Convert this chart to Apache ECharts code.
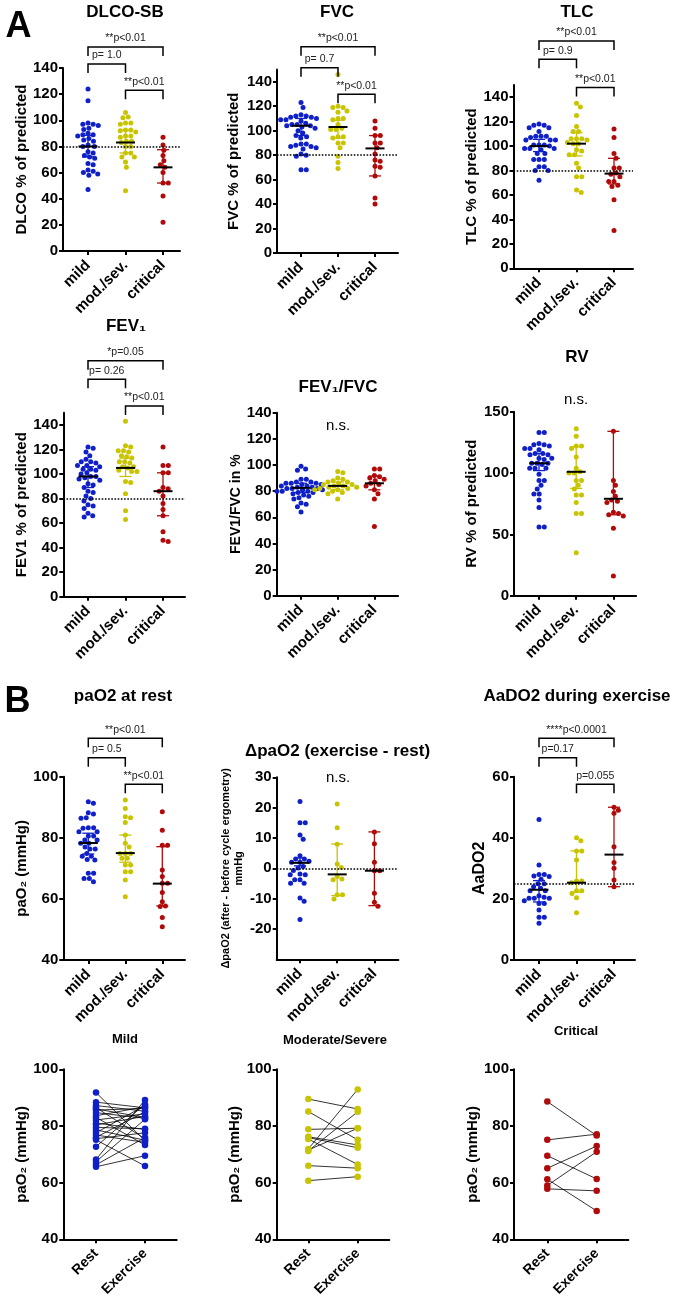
<!DOCTYPE html>
<html lang="en">
<head>
    <meta charset="UTF-8">
    <title>Lung function and blood gases by severity</title>
    <script src="https://cdn.jsdelivr.net/npm/echarts@6.0.0/dist/echarts.min.js"></script>
    <style>
        * { margin: 0; padding: 0; box-sizing: border-box; }
        html, body { width: 676px; height: 1300px; background: #fff; overflow: hidden; }
        #chart { width: 676px; height: 1300px; }
    </style>
</head>
<body>
    <div id="chart"></div>
    <script>
        // ---- categories and tick labels ----
        const severityGroups = ['mild', 'mod./sev.', 'critical'];
        const pairedConditions = ['Rest', 'Exercise'];
        const pctTicks = [0, 20, 40, 60, 80, 100, 120, 140];
        const rvTicks = [0, 50, 100, 150];
        const paTicks = [40, 60, 80, 100];
        const deltaTicks = [-20, -10, 0, 10, 20, 30];
        const aaTicks = [0, 20, 40, 60];

        // ---- A: DLCO-SB (% of predicted) ----
        const dlcoMild = [124, 115, 98, 97, 97, 96, 94, 93, 90, 89, 89, 88, 86, 85, 84, 81, 80, 80, 76, 75, 73, 72, 71, 67, 66, 62, 61, 60, 59, 58, 47];
        const dlcoModSev = [106, 102.5, 102, 98, 98, 97, 92.5, 92.5, 92, 91, 88, 88, 87, 84, 84, 83, 80, 80, 75, 75, 72, 72, 68, 64, 46];
        const dlcoCritical = [87, 81, 77, 73, 69, 66, 64, 60, 52, 52, 42, 22];
        const dlcoMedian = [80, 83, 64];
        const dlcoQ1 = [72, 75, 52];
        const dlcoQ3 = [88.5, 92.5, 77.5];
        const dlcoBrackets = [[1, 3, 156, '**p<0.01'], [1, 2, 143, 'p= 1.0'], [2, 3, 123, '**p<0.01']];

        // ---- FVC ----
        const fvcMild = [123, 119, 113, 112, 112, 111, 111, 110, 109, 109, 108, 106, 105, 105, 104, 104, 103, 102, 100, 98, 96, 95, 94, 89, 89, 88, 87, 87, 86, 85, 81, 80, 79, 68, 68];
        const fvcModSev = [146, 120, 119, 119, 116, 115, 110, 110, 109, 105, 102, 101, 101, 95, 95, 94, 90, 90, 86, 79, 74, 69];
        const fvcCritical = [108, 102, 96, 96, 90, 90, 86, 81, 76, 75, 71, 70, 63, 45, 40];
        const fvcMedian = [104, 103, 85.5];
        const fvcQ1 = [96, 94, 63];
        const fvcQ3 = [110, 108.5, 96];
        const fvcBrackets = [[1, 3, 168.6, '**p<0.01'], [1, 2, 151.4, 'p= 0.7'], [2, 3, 129.7, '**p<0.01']];

        // ---- TLC ----
        const tlcMild = [118, 117, 117, 115, 115, 112, 108, 108, 107, 108, 105, 105, 105, 101, 101, 101, 100, 98, 98, 98, 97, 94, 94, 89, 89, 89, 83, 83, 80, 80, 72];
        const tlcModSev = [135, 132, 125, 116, 112, 112, 106, 106, 106, 105, 103, 102, 102, 96, 97, 93, 93, 86, 82, 75, 75, 64, 62];
        const tlcCritical = [114, 107, 94, 90, 82, 82, 78, 77, 75, 71, 71, 68, 67, 56, 31];
        const tlcMedian = [100, 102, 77.5];
        const tlcQ1 = [95.5, 92, 69];
        const tlcQ3 = [105.5, 111, 90];
        const tlcBrackets = [[1, 3, 186, '**p<0.01'], [1, 2, 171, 'p= 0.9'], [2, 3, 148, '**p<0.01']];

        // ---- FEV1 ----
        const fev1Mild = [122, 121, 118, 115, 112, 110, 110, 109, 107, 107, 106, 104, 104, 103, 101, 100, 98, 98, 97, 96, 95, 92, 91, 89, 86, 85, 82, 80, 78, 75, 74, 72, 68, 66, 65];
        const fev1ModSev = [143, 123, 122, 119, 119, 118, 115, 114, 113, 110, 110, 109, 106, 106, 105, 103, 102, 102, 94, 93, 84, 70, 63];
        const fev1Critical = [122, 107, 107, 101, 101, 89, 88, 86, 82, 76, 71, 66, 53, 46, 45];
        const fev1Median = [98, 105, 86];
        const fev1Q1 = [89, 98, 66];
        const fev1Q3 = [106, 113, 101];
        const fev1Brackets = [[1, 3, 192.4, '*p=0.05'], [1, 2, 177.3, 'p= 0.26'], [2, 3, 155.5, '**p<0.01']];

        // ---- FEV1/FVC ----
        const ratioMild = [99, 97, 96, 89, 89, 87, 87, 86, 86, 86, 85, 85, 84, 84, 84, 83, 83, 82, 82, 82, 81, 81, 80, 80, 80, 79, 79, 78, 77, 76, 75, 74, 71, 70, 68, 64];
        const ratioModSev = [95, 94, 90, 89, 88, 87, 87, 86, 85, 85, 84, 84, 83, 83, 82, 82, 81, 81, 80, 79, 78, 74];
        const ratioCritical = [97, 97, 92, 91, 90, 89, 88, 86, 85, 84, 81, 78, 74, 53];
        const ratioMedian = [82.5, 84, 86];
        const ratioQ1 = [79, 81, 81];
        const ratioQ3 = [86, 87, 91.5];

        // ---- RV ----
        const rvMild = [133, 133, 124, 123, 123, 122, 120, 120, 119, 116, 116, 115, 115, 112, 112, 111, 108, 108, 108, 107, 104, 104, 104, 99, 94, 94, 90, 87, 83, 83, 78, 72, 56, 56];
        const rvModSev = [136, 130, 122, 122, 120, 113, 104, 100, 100, 101, 94, 94, 90, 87, 82, 82, 76, 67, 67, 35];
        const rvCritical = [134, 94, 90, 85, 81, 78, 77, 76, 68, 67, 66, 65, 55, 16];
        const rvMedian = [108, 101, 79];
        const rvQ1 = [102, 87.5, 66];
        const rvQ3 = [116, 121.5, 134];

        // ---- B: paO2 at rest (mmHg) ----
        const paRestMild = [91.8, 91.3, 88.2, 87.8, 86.6, 86.4, 83.3, 83.1, 83.3, 82, 82, 80.6, 80.6, 79.3, 79.3, 78.2, 78.2, 77, 76.3, 76.3, 74.9, 74, 74, 72.9, 72.7, 68.4, 68.4, 66.7, 66.7, 65.6];
        const paRestModSev = [92.4, 89.6, 86.9, 86.6, 85, 80.9, 78.2, 77, 74.9, 74.9, 74.9, 73.3, 73.3, 71.1, 71.1, 68.9, 68.9, 66.2, 60.7];
        const paRestCritical = [88.5, 82.5, 77.6, 77.6, 69.5, 67.3, 65.1, 65.1, 62.1, 59.1, 57.7, 57.5, 53.9, 50.9];
        const paRestMedian = [78.3, 75, 65];
        const paRestQ1 = [74.7, 72, 57.7];
        const paRestQ3 = [81.5, 80.9, 77.1];
        const paRestBrackets = [[1, 3, 112.6, '**p<0.01'], [1, 2, 106.2, 'p= 0.5'], [2, 3, 97.5, '**p<0.01']];

        // ---- delta paO2 (exercise - rest) ----
        const deltaMild = [22, 15, 15, 11, 9.6, 4.1, 3.1, 3.1, 2.3, 2, 2, 0.6, 0.1, -0.7, -2.1, -2.1, -1.9, -3.8, -3.8, -4.9, -4.9, -9.8, -10.9, -16.9];
        const deltaModSev = [21.2, 13.4, 7.9, 1.4, 0.3, -2.7, -3.5, -3.8, -8.7, -8.7, -10.1];
        const deltaCritical = [12, 8.1, 2, -0.8, -0.8, -8.2, -11.2, -12.5];
        const deltaMedian = [1.8, -2, -0.8];
        const deltaQ1 = [0.8, -9, -12.3];
        const deltaQ3 = [3.4, 8, 12];

        // ---- AaDO2 during exercise ----
        const aaMild = [46, 31.1, 28, 28, 27.5, 27.3, 26.4, 25, 25, 24, 23.5, 22.7, 22.7, 21, 20.5, 20.2, 20.2, 20.2, 19.4, 18.5, 18.5, 16.4, 14, 14, 12];
        const aaModSev = [40, 39, 35.7, 35.7, 32.7, 25.9, 25.9, 25.3, 22.7, 22.7, 21.8, 20.4, 15.5];
        const aaCritical = [50, 49, 48, 37.1, 31.9, 30, 26.2, 24];
        const aaMedian = [23, 25.3, 34.5];
        const aaQ1 = [19, 22.2, 24];
        const aaQ3 = [26, 35.7, 50];
        const aaBrackets = [[1, 3, 72.6, '****p<0.0001'], [1, 2, 66.2, 'p=0.17'], [2, 3, 57.5, 'p=0.055']];

        // ---- paired paO2, rest vs exercise ----
        const mildRest = [91.8, 88.4, 87.2, 86.5, 86.0, 85.6, 84.7, 83.6, 83.0, 82.1, 81.0, 80.4, 79.5, 78.6, 77.6, 76.8, 76.0, 75.5, 75.1, 72.7, 68.2, 67.4, 66.3, 65.6];
        const mildExercise = [74.8, 86.4, 85.2, 75.5, 83.0, 86.2, 82.7, 86.8, 73.3, 84.3, 78.8, 83.4, 79.0, 75.0, 87.2, 74.2, 85.0, 77.6, 65.9, 87.7, 89.2, 82.4, 75.9, 69.5];
        const modSevRest = [89.5, 85.1, 78.8, 76.2, 75.9, 75.4, 71.9, 71.2, 71.5, 66.0, 60.7];
        const modSevExercise = [86.0, 75.1, 79.2, 73.3, 72.3, 66.4, 92.9, 85.0, 79.2, 65.1, 62.1];
        const criticalRest = [88.6, 75.1, 69.5, 65.1, 59.0, 57.8, 61.2];
        const criticalExercise = [76.6, 77.1, 61.3, 72.9, 70.9, 57.1, 50.0];

        // ---- look ----
        const FONT = '"Liberation Sans", Arial, Helvetica, sans-serif';
        const COLORS = ['#1020C8', '#C8C400', '#B00A0A'];
        const DOT = 5;          // dot size in the scatter panels
        const SWARM_GAP = 5.3;  // centre distance used to spread dots sideways

        // panel layout (pixels): left = y axis, top/bottom = axis ends, L/s/R = gap to first category, category step, gap after last
        const dotPanels = [
            { groups: [dlcoMild, dlcoModSev, dlcoCritical], median: dlcoMedian, q1: dlcoQ1, q3: dlcoQ3, brackets: dlcoBrackets,
              yMin: 0, yMax: 140, ticks: pctTicks, ref: 80, yName: 'DLCO % of predicted', nameGap: 34, nameSize: 15,
              left: 63, top: 68, bottom: 251, L: 25, s: 37.5, R: 17 },
            { groups: [fvcMild, fvcModSev, fvcCritical], median: fvcMedian, q1: fvcQ1, q3: fvcQ3, brackets: fvcBrackets,
              yMin: 0, yMax: 150, ticks: pctTicks, ref: 80, yName: 'FVC % of predicted', nameGap: 36, nameSize: 15,
              left: 277, top: 69.5, bottom: 253, L: 24, s: 37, R: 23 },
            { groups: [tlcMild, tlcModSev, tlcCritical], median: tlcMedian, q1: tlcQ1, q3: tlcQ3, brackets: tlcBrackets,
              yMin: 0, yMax: 150, ticks: pctTicks, ref: 80, yName: 'TLC % of predicted', nameGap: 34, nameSize: 15,
              left: 513.5, top: 85, bottom: 268.3, L: 25.5, s: 37.5, R: 19 },
            { groups: [fev1Mild, fev1ModSev, fev1Critical], median: fev1Median, q1: fev1Q1, q3: fev1Q3, brackets: fev1Brackets,
              yMin: 0, yMax: 150, ticks: pctTicks, ref: 80, yName: 'FEV1 % of predicted', nameGap: 34, nameSize: 15,
              left: 63.3, top: 412.7, bottom: 596.7, L: 24.7, s: 37.5, R: 22 },
            { groups: [ratioMild, ratioModSev, ratioCritical], median: ratioMedian, q1: ratioQ1, q3: ratioQ3,
              yMin: 0, yMax: 140, ticks: pctTicks, yName: 'FEV1/FVC in %', nameGap: 31, nameSize: 14,
              left: 276.7, top: 412.7, bottom: 595.7, L: 24.3, s: 36.7, R: 23.7 },
            { groups: [rvMild, rvModSev, rvCritical], median: rvMedian, q1: rvQ1, q3: rvQ3,
              yMin: 0, yMax: 150, ticks: rvTicks, yName: 'RV % of predicted', nameGap: 35, nameSize: 15,
              left: 514, top: 411.7, bottom: 595.7, L: 25, s: 37.2, R: 22.7 },
            { groups: [paRestMild, paRestModSev, paRestCritical], median: paRestMedian, q1: paRestQ1, q3: paRestQ3, brackets: paRestBrackets,
              yMin: 40, yMax: 100, ticks: paTicks, yName: 'paO₂ (mmHg)', nameGap: 31, nameSize: 15,
              left: 63.3, top: 776.7, bottom: 960, L: 25, s: 37, R: 22.7 },
            { groups: [deltaMild, deltaModSev, deltaCritical], median: deltaMedian, q1: deltaQ1, q3: deltaQ3,
              yMin: -30, yMax: 30, ticks: deltaTicks, ref: 0, yName: 'ΔpaO2 (after - before cycle ergometry)\nmmHg', nameGap: 23, nameSize: 11, nameLineHeight: 13.5,
              left: 276.7, top: 777.3, bottom: 959.3, L: 23.3, s: 37.2, R: 24 },
            { groups: [aaMild, aaModSev, aaCritical], median: aaMedian, q1: aaQ1, q3: aaQ3, brackets: aaBrackets,
              yMin: 0, yMax: 60, ticks: aaTicks, ref: 25, yName: 'AaDO2', nameGap: 26, nameSize: 16,
              left: 514, top: 776.7, bottom: 960, L: 25, s: 37.5, R: 21 }
        ];

        const pairPanels = [
            { rest: mildRest, exercise: mildExercise, color: 0, left: 63.3, top: 1069.3, bottom: 1239.3, L: 32.7, s: 49, R: 31.7 },
            { rest: modSevRest, exercise: modSevExercise, color: 1, left: 276.7, top: 1069.3, bottom: 1239.3, L: 31.6, s: 49.4, R: 31.6 },
            { rest: criticalRest, exercise: criticalExercise, color: 2, left: 514, top: 1069.3, bottom: 1239.3, L: 33.3, s: 49.4, R: 31.6 }
        ];
        pairPanels.forEach(p => Object.assign(p, {
            yMin: 40, yMax: 100, ticks: paTicks, yName: 'paO₂ (mmHg)', nameGap: 28, nameSize: 15, xLabelSize: 14
        }));

        // titles and panel letters: [text, centre x, centre y, size, weight]
        const panelTexts = [
            ['A', 18.5, 27.5, 36, 'bold'],
            ['B', 17.5, 702.5, 36, 'bold'],
            ['DLCO-SB', 125, 12.5, 17, 'bold'],
            ['FVC', 337, 12.5, 17, 'bold'],
            ['TLC', 577, 12.5, 17, 'bold'],
            ['FEV₁', 126, 326, 17, 'bold'],
            ['FEV₁/FVC', 338, 387.5, 17, 'bold'],
            ['RV', 577, 357, 17, 'bold'],
            ['n.s.', 338, 425.5, 15, 'normal'],
            ['n.s.', 576, 400, 15, 'normal'],
            ['paO2 at rest', 123, 696, 17, 'bold'],
            ['ΔpaO2 (exercise - rest)', 337.5, 751.5, 17, 'bold'],
            ['AaDO2 during exercise', 577, 696, 17, 'bold'],
            ['n.s.', 338, 778, 15, 'normal'],
            ['Mild', 125, 1039, 13, 'bold'],
            ['Moderate/Severe', 335, 1040, 13, 'bold'],
            ['Critical', 576, 1031, 13, 'bold']
        ];

        const grid = [], xAxis = [], yAxis = [], series = [];

        function addAxes(i, p, cats) {
            const n = cats.length;
            const width = p.L + p.s * (n - 1) + p.R;
            const positions = cats.map((c, k) => k + 1);
            grid.push({ left: p.left, top: p.top, width: width, height: p.bottom - p.top, outerBoundsMode: 'none' });
            xAxis.push({
                gridIndex: i, type: 'value', min: 1 - p.L / p.s, max: n + p.R / p.s,
                axisLine: { onZero: false, lineStyle: { color: '#000', width: 2 } },
                axisTick: { show: true, customValues: positions, length: 4, lineStyle: { color: '#000', width: 2 } },
                axisLabel: {
                    customValues: positions, rotate: 45, margin: 12,
                    formatter: v => cats[Math.round(v) - 1],
                    color: '#000', fontSize: p.xLabelSize || 15, fontWeight: 'bold', fontFamily: FONT
                },
                splitLine: { show: false }
            });
            const nameStyle = { color: '#000', fontSize: p.nameSize, fontWeight: 'bold', fontFamily: FONT };
            if (p.nameLineHeight) nameStyle.lineHeight = p.nameLineHeight;
            yAxis.push({
                gridIndex: i, type: 'value', min: p.yMin, max: p.yMax,
                axisLine: { show: true, onZero: false, lineStyle: { color: '#000', width: 2 } },
                axisTick: { show: true, customValues: p.ticks, length: 4, lineStyle: { color: '#000', width: 2 } },
                axisLabel: { customValues: p.ticks, margin: 5, color: '#000', fontSize: 15, fontWeight: 'bold', fontFamily: FONT },
                splitLine: { show: false },
                name: p.yName, nameLocation: 'middle', nameRotate: 90, nameGap: p.nameGap,
                nameTextStyle: nameStyle
            });
            return (p.bottom - p.top) / (p.yMax - p.yMin);
        }

        // beeswarm: spread close values sideways so dots sit side by side (pixel offsets)
        function swarmOffsets(values, pxPerY, diam) {
            const order = values.map((v, k) => k).sort((a, b) => values[b] - values[a]);
            const placed = [];
            const offs = new Array(values.length).fill(0);
            order.forEach(k => {
                const y = values[k] * pxPerY;
                const near = placed.filter(q => Math.abs(q.y - y) < diam);
                const cands = [0];
                near.forEach(q => {
                    const dx = Math.sqrt(diam * diam - (q.y - y) * (q.y - y));
                    cands.push(q.x + dx, q.x - dx);
                });
                cands.sort((a, b) => Math.abs(a) - Math.abs(b));
                let x = 0;
                for (const c of cands) {
                    if (near.every(q => (q.x - c) * (q.x - c) + (q.y - y) * (q.y - y) >= diam * diam - 0.01)) { x = c; break; }
                }
                placed.push({ x, y });
                offs[k] = x;
            });
            return offs;
        }

        function seg(x1, y1, x2, y2, style) {
            return { type: 'line', shape: { x1, y1, x2, y2 }, style };
        }

        function errorBarSeries(i, p) {
            return {
                type: 'custom', coordinateSystem: 'cartesian2d', xAxisIndex: i, yAxisIndex: i,
                silent: true, clip: false, z: 4,
                data: p.median.map((m, g) => [g + 1, m, p.q1[g], p.q3[g]]),
                renderItem: (params, api) => {
                    const x = api.value(0);
                    const mid = api.coord([x, api.value(1)]);
                    const lo = api.coord([x, api.value(2)]);
                    const hi = api.coord([x, api.value(3)]);
                    const st = { stroke: COLORS[params.dataIndex], lineWidth: 1.3 };
                    return {
                        type: 'group', children: [
                            seg(lo[0], lo[1], hi[0], hi[1], st),
                            seg(lo[0] - 6, lo[1], lo[0] + 6, lo[1], st),
                            seg(hi[0] - 6, hi[1], hi[0] + 6, hi[1], st),
                            seg(mid[0] - 9.5, mid[1], mid[0] + 9.5, mid[1], { stroke: '#000', lineWidth: 2 })
                        ]
                    };
                }
            };
        }

        function bracketSeries(i, brackets) {
            return {
                type: 'custom', coordinateSystem: 'cartesian2d', xAxisIndex: i, yAxisIndex: i,
                silent: true, clip: false, z: 5,
                data: brackets.map(b => [b[0], b[2], b[1]]),
                renderItem: (params, api) => {
                    const a = api.coord([api.value(0), api.value(1)]);
                    const b = api.coord([api.value(2), api.value(1)]);
                    return {
                        type: 'group', children: [
                            { type: 'polyline', shape: { points: [[a[0], a[1] + 9], a, b, [b[0], b[1] + 9]] },
                              style: { stroke: '#000', lineWidth: 1.5, fill: 'none' } },
                            { type: 'text', x: (a[0] + b[0]) / 2, y: a[1] - 3,
                              style: { text: brackets[params.dataIndex][3], fill: '#222', fontSize: 10.5, fontFamily: FONT,
                                       align: 'center', verticalAlign: 'bottom', textAlign: 'center', textVerticalAlign: 'bottom' } }
                        ]
                    };
                }
            };
        }

        dotPanels.forEach((p, i) => {
            const pxPerY = addAxes(i, p, severityGroups);
            p.groups.forEach((vals, g) => {
                const offs = swarmOffsets(vals, pxPerY, SWARM_GAP);
                const s = {
                    type: 'scatter', xAxisIndex: i, yAxisIndex: i, silent: true, z: 2,
                    symbol: 'circle', symbolSize: DOT,
                    itemStyle: { color: COLORS[g], opacity: 1 },
                    data: vals.map((v, k) => [g + 1 + offs[k] / p.s, v])
                };
                if (g === 0 && p.ref !== undefined) {
                    s.markLine = {
                        silent: true, symbol: 'none', label: { show: false },
                        lineStyle: { type: 'dotted', color: '#000', width: 1.6 },
                        data: [{ yAxis: p.ref }]
                    };
                }
                series.push(s);
            });
            series.push(errorBarSeries(i, p));
            if (p.brackets) series.push(bracketSeries(i, p.brackets));
        });

        pairPanels.forEach((p, j) => {
            const i = dotPanels.length + j;
            addAxes(i, p, pairedConditions);
            series.push({
                type: 'custom', coordinateSystem: 'cartesian2d', xAxisIndex: i, yAxisIndex: i,
                silent: true, z: 2,
                data: p.rest.map((r, k) => [1, r, 2, p.exercise[k]]),
                renderItem: (params, api) => {
                    const a = api.coord([api.value(0), api.value(1)]);
                    const b = api.coord([api.value(2), api.value(3)]);
                    return seg(a[0], a[1], b[0], b[1], { stroke: '#000', lineWidth: 0.8 });
                }
            });
            series.push({
                type: 'scatter', xAxisIndex: i, yAxisIndex: i, silent: true, z: 3,
                symbol: 'circle', symbolSize: 6.5,
                itemStyle: { color: COLORS[p.color], opacity: 1 },
                data: p.rest.map(v => [1, v]).concat(p.exercise.map(v => [2, v]))
            });
        });

        const chart = echarts.init(document.getElementById('chart'), null, { renderer: 'canvas' });
        chart.setOption({
            animation: false,
            backgroundColor: '#fff',
            grid, xAxis, yAxis, series,
            graphic: {
                elements: panelTexts.map(t => ({
                    type: 'text', x: t[1], y: t[2], silent: true,
                    style: {
                        text: t[0], fill: '#000', fontSize: t[3], fontWeight: t[4], fontFamily: FONT,
                        align: 'center', verticalAlign: 'middle', textAlign: 'center', textVerticalAlign: 'middle'
                    }
                }))
            }
        });
    </script>
</body>
</html>
